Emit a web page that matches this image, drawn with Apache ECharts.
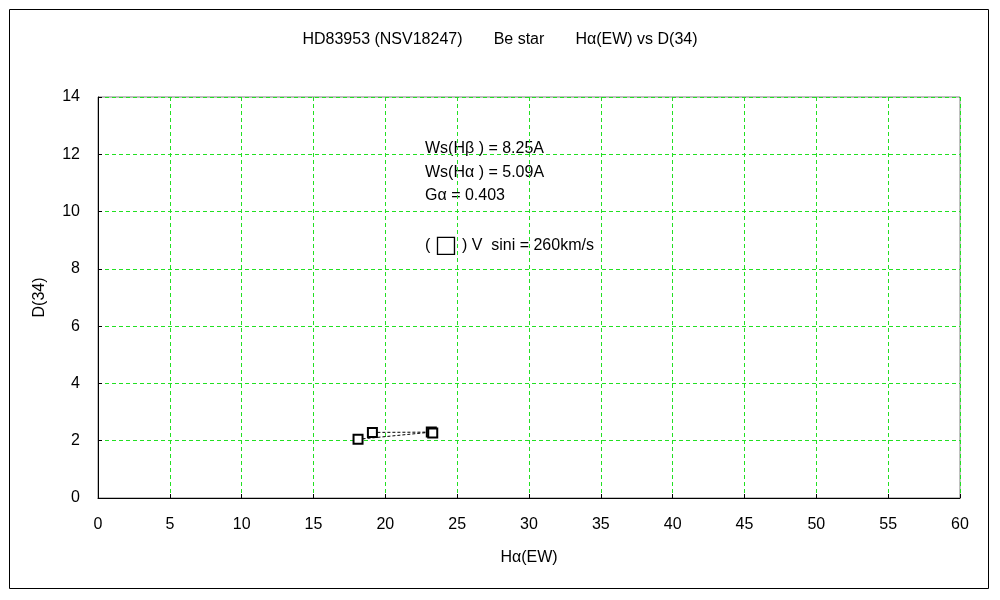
<!DOCTYPE html>
<html><head><meta charset="utf-8">
<script src="https://cdn.jsdelivr.net/npm/echarts@6/dist/echarts.min.js"></script>
<style>html,body{margin:0;padding:0;background:#fff}#c{width:1000px;height:600px}</style>
</head><body><div id="c"></div>
<script>
const titleText = 'HD83953 (NSV18247)       Be star       H\u03b1(EW) vs D(34)';
const xName = 'H\u03b1(EW)';
const yName = 'D(34)';
const hAlphaEW = [19.1, 23.2, 23.3, 18.1];
const d34 = [2.29, 2.30, 2.27, 2.05];
const notes = ['Ws(H\u03b2 ) = 8.25A', 'Ws(H\u03b1 ) = 5.09A', 'G\u03b1 = 0.403', '( {b|\u25a1} ) V  sini = 260km/s'];

const font = '"Liberation Sans", sans-serif';
const green = '#22e022';
const chart = echarts.init(document.getElementById('c'));
const pts = hAlphaEW.map((x, i) => [x, d34[i]]);
chart.setOption({
  backgroundColor: '#fff',
  animation: false,
  title: {text: titleText, left: 'center', top: 27,
    textStyle: {fontSize: 16, fontWeight: 'normal', color: '#000', fontFamily: font}},
  grid: {left: 98, right: 40, top: 97, bottom: 102, show: true, borderColor: '#808080', borderWidth: 1},
  xAxis: {type: 'value', min: 0, max: 60, interval: 5,
    name: xName, nameLocation: 'middle', nameGap: 52,
    nameTextStyle: {fontSize: 16, color: '#000', fontFamily: font},
    axisLine: {show: true, lineStyle: {color: '#000', width: 1}},
    axisTick: {show: true, inside: true, length: 4, lineStyle: {color: '#000'}},
    axisLabel: {fontSize: 16, color: '#000', margin: 19, fontFamily: font},
    splitLine: {show: true, lineStyle: {color: green, type: [4, 3], width: 1}}},
  yAxis: {type: 'value', min: 0, max: 14, interval: 2,
    name: yName, nameLocation: 'middle', nameGap: 50, nameRotate: 90,
    nameTextStyle: {fontSize: 16, color: '#000', fontFamily: font},
    axisLine: {show: true, lineStyle: {color: '#000', width: 1}},
    axisTick: {show: true, inside: true, length: 4, lineStyle: {color: '#000'}},
    axisLabel: {fontSize: 16, color: '#000', margin: 18, fontFamily: font},
    splitLine: {show: true, lineStyle: {color: green, type: [4, 3], width: 1}}},
  series: [{type: 'line', data: pts, symbol: 'rect', symbolSize: 9,
    showAllSymbol: true,
    itemStyle: {color: '#fff', borderColor: '#000', borderWidth: 2},
    lineStyle: {color: '#000', width: 1, type: [3, 2]}}],
  graphic: [
    {type: 'rect', shape: {x: 9.5, y: 9.5, width: 979, height: 579}, style: {fill: 'none', stroke: '#000', lineWidth: 1}, silent: true},
    ...notes.map((t, i) => ({type: 'text', left: 425, top: [141, 165, 188, 234][i],
      style: {text: t, fill: '#000', font: '16px ' + font,
        rich: {b: {font: '24px "DejaVu Sans", sans-serif', fill: '#000'}}}}))
  ]
});
</script></body></html>
